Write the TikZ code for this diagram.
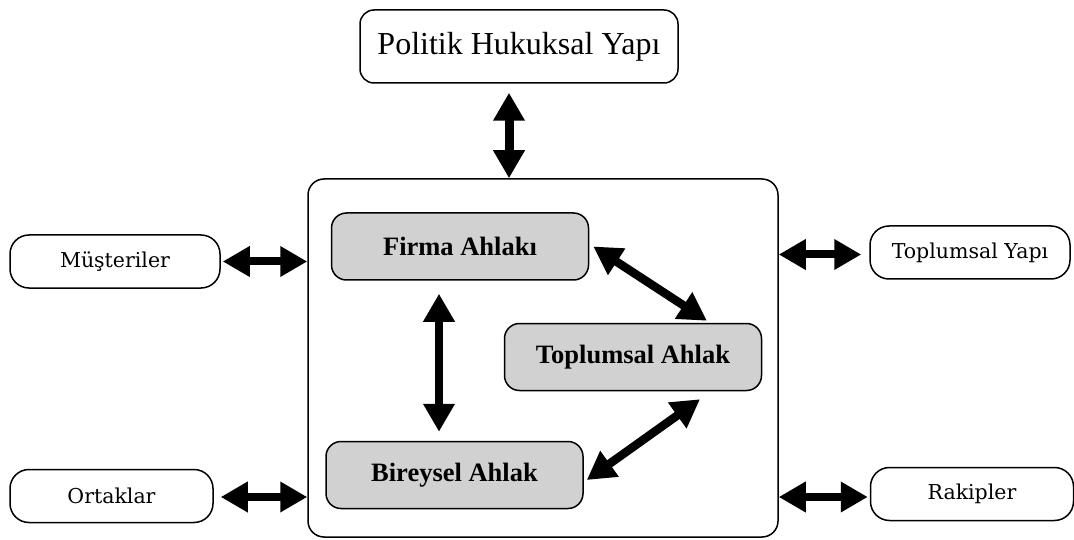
\documentclass[tikz,border=0pt]{standalone}
\usepackage{fontspec}
\setmainfont{Liberation Serif}
\newfontfamily\sidefont{DejaVu Serif}
\usetikzlibrary{arrows.meta}
\begin{document}
\begin{tikzpicture}[x=1pt,y=-1pt,
  box/.style={draw, line width=1.5pt, rounded corners=14pt, inner sep=0pt},
  sidebox/.style={draw, line width=1.5pt, rounded corners=19pt, inner sep=0pt,
    minimum height=53pt, font=\sidefont\fontsize{20.5}{24}\selectfont},
  ethic/.style={draw, line width=1.5pt, rounded corners=15pt, inner sep=0pt,
    fill=black!18, minimum width=257pt, minimum height=67pt,
    font=\bfseries\fontsize{26.5}{30}\selectfont},
  dbl/.style={line width=8.5pt,
    {Triangle[length=28pt,width=30pt]}-{Triangle[length=28pt,width=30pt]}},
  sideconn/.style={line width=8pt,
    {Triangle[length=27pt,width=29pt]}-{Triangle[length=27pt,width=29pt]}}
]
\useasboundingbox (0,0) rectangle (1074,540);

% top block
\node[box, minimum width=318pt, minimum height=73pt,
  font=\fontsize{32}{36}\selectfont] (politik) at (519,46.5) {Politik Hukuksal Yap\i};

% central frame
\node[draw, line width=1.5pt, rounded corners=16pt, minimum width=470pt,
  minimum height=358pt, inner sep=0pt] (main) at (543,358) {};

% inner ethics boxes
\node[ethic] (firma) at (460,246.5) {Firma Ahlak\i};
\node[ethic] (toplum) at (633,357) {Toplumsal Ahlak};
\node[ethic] (birey) at (454.5,475) {Bireysel Ahlak};

% outside actors
\node[sidebox, minimum width=210pt] (musteri) at (115,261.5) {Müşteriler};
\node[sidebox, minimum width=203pt] (ortak) at (111.5,496) {Ortaklar};
\node[sidebox, minimum width=200pt] (tyapi) at (970,252.5) {Toplumsal Yap\i};
\node[sidebox, minimum width=203pt] (rakip) at (972,494) {Rakipler};

% connectors
\draw[dbl, line width=9pt] ([xshift=-10pt,yshift=-9pt]politik.south) -- ([xshift=-34pt]main.north);
\draw[dbl] ([xshift=-21pt,yshift=-13pt]firma.south) -- ([xshift=-15.5pt,yshift=9pt]birey.north);
\draw[dbl] ([xshift=4pt]firma.east) -- ([xshift=74pt,yshift=2pt]toplum.north);
\draw[dbl] ([xshift=3pt,yshift=-5pt]birey.east) -- ([xshift=67pt,yshift=-8pt]toplum.south);

\draw[sideconn] ([xshift=2pt]musteri.east) -- (musteri.east -| main.west);
\draw[sideconn] ([xshift=7pt,yshift=-1pt]ortak.east) -- ([yshift=-1pt]ortak.east -| main.west);
\draw[sideconn] ([yshift=-2pt]main.east |- tyapi.west) -- ([xshift=-8pt,yshift=-2pt]tyapi.west);
\draw[sideconn] ([yshift=-3pt]main.east |- rakip.west) -- ([xshift=-2pt,yshift=-3pt]rakip.west);
\end{tikzpicture}
\end{document}
